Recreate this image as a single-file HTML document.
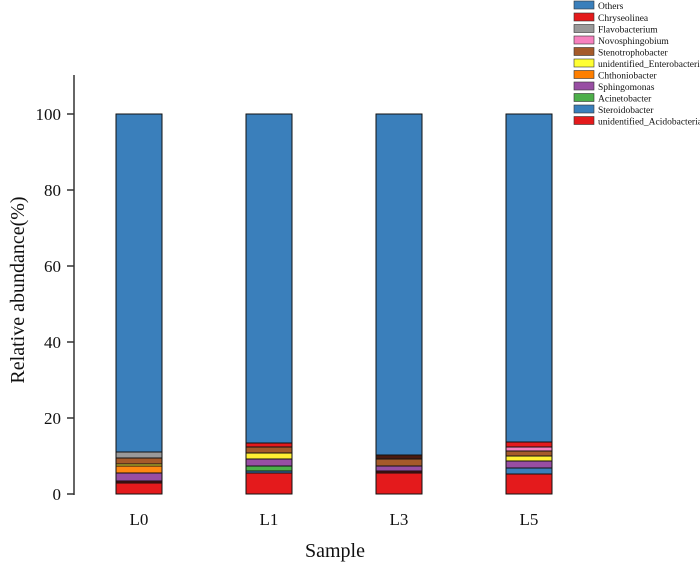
<!DOCTYPE html><html><head><style>body{margin:0;background:#fff}svg{display:block}text{font-family:"Liberation Serif",serif}</style></head><body>
<svg width="700" height="567" viewBox="0 0 700 567">
<line x1="74" y1="75" x2="74" y2="495" stroke="#333" stroke-width="1.5"/>
<g stroke="#333" stroke-width="1.5">
<line x1="67" y1="494" x2="74" y2="494"/><line x1="67" y1="418" x2="74" y2="418"/><line x1="67" y1="342" x2="74" y2="342"/><line x1="67" y1="266" x2="74" y2="266"/><line x1="67" y1="190" x2="74" y2="190"/><line x1="67" y1="114" x2="74" y2="114"/></g>
<g font-size="17" text-anchor="end" fill="#111">
<text x="61" y="500">0</text><text x="61" y="424">20</text><text x="61" y="348">40</text><text x="61" y="272">60</text><text x="61" y="196">80</text><text x="61" y="120">100</text></g>
<text transform="translate(24,290) rotate(-90)" font-size="20" text-anchor="middle" fill="#111">Relative abundance(%)</text>
<text x="335" y="557" font-size="20" text-anchor="middle" fill="#111">Sample</text>
<g font-size="17" fill="#111" text-anchor="middle">
<text x="139" y="525">L0</text><text x="269" y="525">L1</text><text x="399" y="525">L3</text><text x="529" y="525">L5</text></g>
<g stroke="#111" stroke-width="1">
<rect x="116" y="114" width="46" height="338" fill="#3a7fbb"/>
<rect x="116" y="452" width="46" height="6" fill="#999"/>
<rect x="116" y="458" width="46" height="6" fill="#a55a2a"/>
<rect x="116" y="464" width="46" height="2" fill="#ffee33"/>
<rect x="116" y="466" width="46" height="7" fill="#ff8811"/>
<rect x="116" y="473" width="46" height="8" fill="#984ea3"/>
<rect x="116" y="481" width="46" height="2" fill="#5a1010"/>
<rect x="116" y="483" width="46" height="11" fill="#e41a1c"/>
<rect x="246" y="114" width="46" height="329" fill="#3a7fbb"/>
<rect x="246" y="443" width="46" height="4" fill="#e41a1c"/>
<rect x="246" y="447" width="46" height="6" fill="#a55a2a"/>
<rect x="246" y="453" width="46" height="6" fill="#ffee33"/>
<rect x="246" y="459" width="46" height="7" fill="#984ea3"/>
<rect x="246" y="466" width="46" height="5" fill="#4daf4a"/>
<rect x="246" y="471" width="46" height="2" fill="#3a7fbb"/>
<rect x="246" y="473" width="46" height="21" fill="#e41a1c"/>
<rect x="376" y="114" width="46" height="341" fill="#3a7fbb"/>
<rect x="376" y="455" width="46" height="4" fill="#4a1a10"/>
<rect x="376" y="459" width="46" height="7" fill="#a55a2a"/>
<rect x="376" y="466" width="46" height="5" fill="#984ea3"/>
<rect x="376" y="471" width="46" height="2" fill="#5a1010"/>
<rect x="376" y="473" width="46" height="21" fill="#e41a1c"/>
<rect x="506" y="114" width="46" height="328" fill="#3a7fbb"/>
<rect x="506" y="442" width="46" height="5" fill="#e41a1c"/>
<rect x="506" y="447" width="46" height="4" fill="#f781bf"/>
<rect x="506" y="451" width="46" height="5" fill="#a55a2a"/>
<rect x="506" y="456" width="46" height="5" fill="#ffee33"/>
<rect x="506" y="461" width="46" height="7" fill="#984ea3"/>
<rect x="506" y="468" width="46" height="6" fill="#3a7fbb"/>
<rect x="506" y="474" width="46" height="20" fill="#e41a1c"/>
</g>
<g stroke="#333" stroke-width="0.6" font-size="9.5" fill="#111">
<rect x="574" y="1" width="20" height="8" fill="#3a7fbb"/><text x="598" y="9" stroke="none">Others</text>
<rect x="574" y="13" width="20" height="8" fill="#e41a1c"/><text x="598" y="21" stroke="none">Chryseolinea</text>
<rect x="574" y="24.5" width="20" height="8" fill="#999"/><text x="598" y="32.5" stroke="none">Flavobacterium</text>
<rect x="574" y="36" width="20" height="8" fill="#f781bf"/><text x="598" y="44" stroke="none">Novosphingobium</text>
<rect x="574" y="47.5" width="20" height="8" fill="#a55a2a"/><text x="598" y="55.5" stroke="none">Stenotrophobacter</text>
<rect x="574" y="59" width="20" height="8" fill="#ffff33"/><text x="598" y="67" stroke="none">unidentified_Enterobacteria</text>
<rect x="574" y="70.5" width="20" height="8" fill="#ff7f00"/><text x="598" y="78.5" stroke="none">Chthoniobacter</text>
<rect x="574" y="82" width="20" height="8" fill="#984ea3"/><text x="598" y="90" stroke="none">Sphingomonas</text>
<rect x="574" y="93.5" width="20" height="8" fill="#4daf4a"/><text x="598" y="101.5" stroke="none">Acinetobacter</text>
<rect x="574" y="105" width="20" height="8" fill="#3a7fbb"/><text x="598" y="113" stroke="none">Steroidobacter</text>
<rect x="574" y="116.5" width="20" height="8" fill="#e41a1c"/><text x="598" y="124.5" stroke="none">unidentified_Acidobacteria</text>
</g>
</svg></body></html>
